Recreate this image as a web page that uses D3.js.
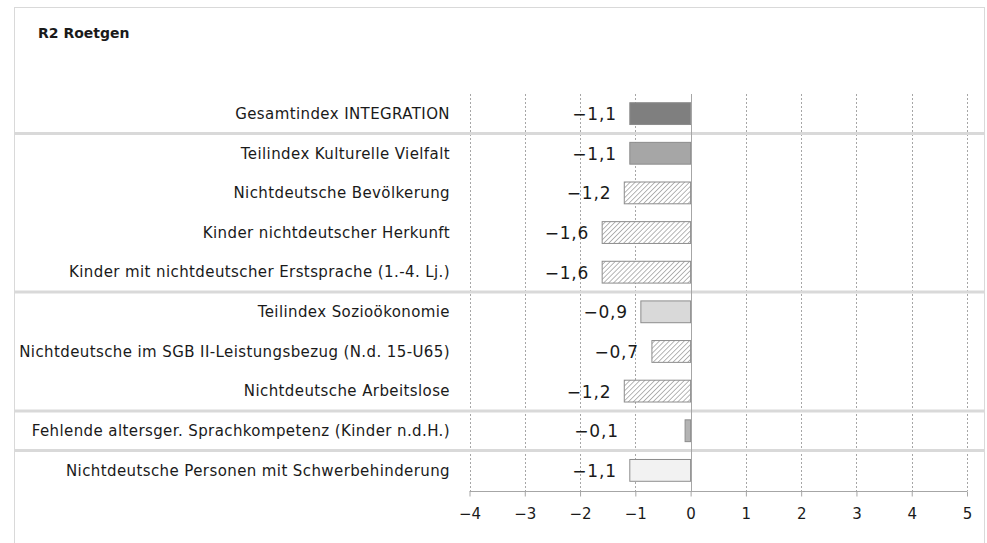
<!DOCTYPE html>
<html>
<head>
<meta charset="utf-8">
<script src="https://cdn.jsdelivr.net/npm/d3@7"></script>
<style>
  body { margin: 0; background: #fff; }
  svg text { font-family: "DejaVu Sans", sans-serif; fill: #1a1a1a; }
</style>
</head>
<body>
<div id="chart"></div>
<script>
var title = "R2 Roetgen";

var categories = [
  "Gesamtindex INTEGRATION",
  "Teilindex Kulturelle Vielfalt",
  "Nichtdeutsche Bevölkerung",
  "Kinder nichtdeutscher Herkunft",
  "Kinder mit nichtdeutscher Erstsprache (1.-4. Lj.)",
  "Teilindex Sozioökonomie",
  "Nichtdeutsche im SGB II-Leistungsbezug (N.d. 15-U65)",
  "Nichtdeutsche Arbeitslose",
  "Fehlende altersger. Sprachkompetenz (Kinder n.d.H.)",
  "Nichtdeutsche Personen mit Schwerbehinderung"
];
var values = [-1.1, -1.1, -1.2, -1.6, -1.6, -0.9, -0.7, -1.2, -0.1, -1.1];
var fills = ["#7f7f7f", "#a6a6a6", "hatch", "hatch", "hatch", "#d9d9d9", "hatch", "hatch", "#b3b3b3", "#f2f2f2"];
// a group separator line is drawn after these rows
var groupEnds = [0, 4, 7, 8];
var xTicks = [-4, -3, -2, -1, 0, 1, 2, 3, 4, 5];

var width = 987,
    height = 543,
    svg = d3.select("#chart").append("svg")
      .attr("width", width)
      .attr("height", height);

var defs = svg.append("defs");
var pat = defs.append("pattern")
  .attr("id", "hatch")
  .attr("patternUnits", "userSpaceOnUse")
  .attr("width", 3.5).attr("height", 3.5)
  .attr("patternTransform", "rotate(45)");
pat.append("rect").attr("width", 3.5).attr("height", 3.5).attr("fill", "#fff");
pat.append("line").attr("x1", 0).attr("y1", 0).attr("x2", 0).attr("y2", 3.5)
  .attr("stroke", "#7a7a7a").attr("stroke-width", 1.1);

// outer frame
svg.append("rect")
  .attr("x", 14.5).attr("y", 7.5)
  .attr("width", 970).attr("height", 545)
  .attr("fill", "none").attr("stroke", "#d9d9d9");

svg.append("text")
  .attr("x", 38).attr("y", 38)
  .style("font-size", "14px").style("font-weight", "bold")
  .text(title);

var x = d3.scaleLinear().domain([-4, 5]).range([469.5, 967]);
var y = d3.scaleBand().domain(categories).range([94, 490]).paddingInner(0.45).paddingOuter(0.22);

// dashed grid
svg.append("g").selectAll("line")
  .data(xTicks.filter(function (t) { return t !== 0; }))
  .enter().append("line")
  .attr("x1", function (d) { return Math.round(x(d)) + 0.5; })
  .attr("x2", function (d) { return Math.round(x(d)) + 0.5; })
  .attr("y1", 94).attr("y2", 491)
  .attr("stroke", "#a6a6a6")
  .attr("stroke-dasharray", "2,2");

// separators between groups
svg.append("g").selectAll("line")
  .data(groupEnds)
  .enter().append("line")
  .attr("x1", 15).attr("x2", 984)
  .attr("y1", function (i) { return (y(categories[i]) + y.bandwidth() + y(categories[i + 1])) / 2; })
  .attr("y2", function (i) { return (y(categories[i]) + y.bandwidth() + y(categories[i + 1])) / 2; })
  .attr("stroke", "#d9d9d9").attr("stroke-width", 3);

// bars
svg.append("g").selectAll("rect")
  .data(values)
  .enter().append("rect")
  .attr("x", function (d) { return x(Math.min(0, d)); })
  .attr("width", function (d) { return Math.abs(x(d) - x(0)); })
  .attr("y", function (d, i) { return y(categories[i]); })
  .attr("height", y.bandwidth())
  .attr("fill", function (d, i) { return fills[i] === "hatch" ? "url(#hatch)" : fills[i]; })
  .attr("stroke", "#8c8c8c").attr("stroke-width", 1);

// zero line
svg.append("line")
  .attr("x1", Math.round(x(0)) + 0.5).attr("x2", Math.round(x(0)) + 0.5)
  .attr("y1", 94).attr("y2", 491)
  .attr("stroke", "#a6a6a6");

// category labels
svg.append("g").selectAll("text")
  .data(categories)
  .enter().append("text")
  .attr("x", 450)
  .attr("y", function (d) { return y(d) + y.bandwidth() / 2; })
  .attr("dy", "0.35em")
  .attr("text-anchor", "end")
  .style("font-size", "15px")
  .style("letter-spacing", "0.4px")
  .text(function (d) { return d; });

// value labels
var fmt = function (v) { return d3.format(".1f")(v).replace("-", "\u2212").replace(".", ","); };
svg.append("g").selectAll("text")
  .data(values)
  .enter().append("text")
  .attr("x", function (d) { return Math.abs(d) < 0.5 ? x(-1.3) : x(d) - 13; })
  .attr("y", function (d, i) { return y(categories[i]) + y.bandwidth() / 2; })
  .attr("dy", "0.38em")
  .attr("text-anchor", "end")
  .style("font-size", "17px")
  .style("letter-spacing", "0.8px")
  .text(fmt);

// x axis
var xAxis = svg.append("g")
  .attr("transform", "translate(0,491.5)")
  .call(d3.axisBottom(x).tickValues(xTicks).tickSize(5).tickPadding(12)
    .tickFormat(function (d) { return String(d).replace("-", "\u2212"); }));
xAxis.select(".domain").attr("stroke", "#a6a6a6").attr("d", "M" + x(-4) + ",0H" + x(5));
xAxis.selectAll(".tick line").attr("stroke", "#a6a6a6");
xAxis.selectAll("text").style("font-size", "15px").style("font-family", "DejaVu Sans, sans-serif").attr("fill", "#1a1a1a");
</script>
</body>
</html>
